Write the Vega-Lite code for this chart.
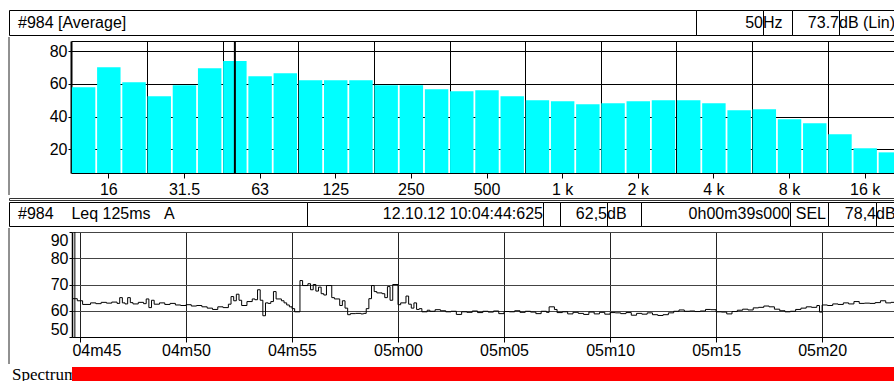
{
  "$schema": "https://vega.github.io/schema/vega-lite/v6.json",
  "padding": {"left": 8, "top": 9, "right": 0, "bottom": 0},
  "background": "white",
  "spacing": 0,
  "config": {
    "view": {"stroke": null},
    "font": "Liberation Sans",
    "axis": {"labelFont": "Liberation Sans", "labelFontSize": 16, "labelLineHeight": 12, "labelColor": "black", "tickColor": "black", "domainColor": "black", "gridColor": "black", "gridOpacity": 1, "zindex": 1, "labelAngle": 0},
    "text": {"font": "Liberation Sans", "fontSize": 16, "lineHeight": 12, "color": "black", "baseline": "middle"}
  },
  "vconcat": [
    {
      "hconcat": [
        {"width": 687, "height": 25, "view": {"stroke": "black"}, "data": {"values": [{"label": "#984 [Average]"}]}, "mark": {"type": "text", "align": "left", "dx": 9}, "encoding": {"text": {"field": "label"}, "x": {"datum": 0, "type": "quantitative", "scale": {"domain": [0, 1]}, "axis": null}}},
        {"width": 67, "height": 25, "view": {"stroke": "black"}, "data": {"values": [{"label": "50"}]}, "mark": {"type": "text", "align": "right"}, "encoding": {"text": {"field": "label"}, "x": {"datum": 1, "type": "quantitative", "scale": {"domain": [0, 1]}, "axis": null}}},
        {"width": 29, "height": 25, "view": {"stroke": "black"}, "data": {"values": [{"label": "Hz"}]}, "mark": {"type": "text", "align": "left"}, "encoding": {"text": {"field": "label"}, "x": {"datum": 0, "type": "quantitative", "scale": {"domain": [0, 1]}, "axis": null}}},
        {"width": 47, "height": 25, "view": {"stroke": "black"}, "data": {"values": [{"label": "73.7"}]}, "mark": {"type": "text", "align": "right"}, "encoding": {"text": {"field": "label"}, "x": {"datum": 1, "type": "quantitative", "scale": {"domain": [0, 1]}, "axis": null}}},
        {"width": 60, "height": 25, "view": {"stroke": "black"}, "data": {"values": [{"label": "dB (Lin)"}]}, "mark": {"type": "text", "align": "left"}, "encoding": {"text": {"field": "label"}, "x": {"datum": 0, "type": "quantitative", "scale": {"domain": [0, 1]}, "axis": null}}}
      ],
      "spacing": 0,
      "bounds": "flush"
    },
    {
      "hconcat": [
        {"width": 62, "height": 158, "data": {"values": [{}]}, "mark": {"type": "rule", "color": "#222222", "strokeWidth": 1}, "encoding": {"x": {"datum": 0, "type": "quantitative", "scale": {"domain": [0, 1]}, "axis": null}}},
        {
          "vconcat": [
            {"width": 832, "height": 4, "data": {"values": []}, "mark": "point", "encoding": {}},
            {
              "width": 832,
              "height": 132,
              "layer": [
                {
                  "data": {"values": [
                    {"band": "12.5", "level": 58.0}, {"band": "16", "level": 70.2}, {"band": "20", "level": 61.0},
                    {"band": "25", "level": 52.5}, {"band": "31.5", "level": 59.2}, {"band": "40", "level": 69.6},
                    {"band": "50", "level": 74.0}, {"band": "63", "level": 64.7}, {"band": "80", "level": 66.5},
                    {"band": "100", "level": 62.3}, {"band": "125", "level": 62.3}, {"band": "160", "level": 62.3},
                    {"band": "200", "level": 59.2}, {"band": "250", "level": 59.2}, {"band": "315", "level": 56.8},
                    {"band": "400", "level": 55.5}, {"band": "500", "level": 56.1}, {"band": "630", "level": 52.5},
                    {"band": "800", "level": 50.0}, {"band": "1 k", "level": 49.4}, {"band": "1.25 k", "level": 47.6},
                    {"band": "1.6 k", "level": 48.2}, {"band": "2 k", "level": 49.4}, {"band": "2.5 k", "level": 50.0},
                    {"band": "3.15 k", "level": 50.0}, {"band": "4 k", "level": 48.2}, {"band": "5 k", "level": 43.9},
                    {"band": "6.3 k", "level": 44.5}, {"band": "8 k", "level": 38.4}, {"band": "10 k", "level": 36.0},
                    {"band": "12.5 k", "level": 29.2}, {"band": "16 k", "level": 20.7}, {"band": "20 k", "level": 18.2}
                  ]},
                  "mark": {"type": "bar", "color": "#00FFFF", "clip": true},
                  "encoding": {
                    "x": {
                      "field": "band", "type": "ordinal", "sort": null,
                      "scale": {"domain": ["12.5","16","20","25","31.5","40","50","63","80","100","125","160","200","250","315","400","500","630","800","1 k","1.25 k","1.6 k","2 k","2.5 k","3.15 k","4 k","5 k","6.3 k","8 k","10 k","12.5 k","16 k","20 k"], "paddingInner": 0.07, "paddingOuter": 0.035},
                      "axis": {"title": null, "values": ["16","31.5","63","125","250","500","1 k","2 k","4 k","8 k","16 k"], "grid": false, "tickSize": 5, "labelPadding": 11, "labelBaseline": "middle", "orient": "bottom"}
                    },
                    "y": {
                      "field": "level", "type": "quantitative",
                      "scale": {"domain": [5.6, 86.2], "nice": false, "zero": false},
                      "axis": {"title": null, "values": [20, 40, 60, 80], "tickSize": 3, "labelPadding": 1, "domainWidth": 2, "grid": true}
                    }
                  }
                },
                {
                  "data": {"values": [{"band": "50"}]},
                  "mark": {"type": "rule", "color": "black", "strokeWidth": 2},
                  "encoding": {
                    "x": {
                      "field": "band", "type": "ordinal", "sort": null,
                      "axis": {"title": null, "orient": "top", "values": ["25","50","100","200","400","800","1.6 k","3.15 k","6.3 k","12.5 k"], "bandPosition": 0, "grid": true, "labels": false, "ticks": false, "domain": true}
                    }
                  }
                }
              ],
              "resolve": {"axis": {"x": "independent"}}
            }
          ],
          "spacing": 0,
          "bounds": "flush"
        }
      ],
      "spacing": 0,
      "bounds": "flush"
    },
    {"width": 885, "height": 2, "view": {"stroke": "#333333", "strokeWidth": 1}, "data": {"values": []}, "mark": "point", "encoding": {}},
    {
      "hconcat": [
        {"width": 298, "height": 24, "view": {"stroke": "black"}, "data": {"values": [{"label": "#984\u00a0\u00a0\u00a0\u00a0Leq 125ms\u00a0\u00a0\u00a0A"}]}, "mark": {"type": "text", "align": "left", "dx": 9}, "encoding": {"text": {"field": "label"}, "x": {"datum": 0, "type": "quantitative", "scale": {"domain": [0, 1]}, "axis": null}}},
        {"width": 236, "height": 24, "view": {"stroke": "black"}, "data": {"values": [{"label": "12.10.12 10:04:44:625"}]}, "mark": {"type": "text", "align": "right"}, "encoding": {"text": {"field": "label"}, "x": {"datum": 1, "type": "quantitative", "scale": {"domain": [0, 1]}, "axis": null}}},
        {"width": 17, "height": 24, "view": {"stroke": "black"}, "data": {"values": [{"label": ""}]}, "mark": {"type": "text", "align": "left"}, "encoding": {"text": {"field": "label"}, "x": {"datum": 0, "type": "quantitative", "scale": {"domain": [0, 1]}, "axis": null}}},
        {"width": 47, "height": 24, "view": {"stroke": "black"}, "data": {"values": [{"label": "62,5"}]}, "mark": {"type": "text", "align": "right"}, "encoding": {"text": {"field": "label"}, "x": {"datum": 1, "type": "quantitative", "scale": {"domain": [0, 1]}, "axis": null}}},
        {"width": 34, "height": 24, "view": {"stroke": "black"}, "data": {"values": [{"label": "dB"}]}, "mark": {"type": "text", "align": "left"}, "encoding": {"text": {"field": "label"}, "x": {"datum": 0, "type": "quantitative", "scale": {"domain": [0, 1]}, "axis": null}}},
        {"width": 149, "height": 24, "view": {"stroke": "black"}, "data": {"values": [{"label": "0h00m39s000"}]}, "mark": {"type": "text", "align": "right"}, "encoding": {"text": {"field": "label"}, "x": {"datum": 1, "type": "quantitative", "scale": {"domain": [0, 1]}, "axis": null}}},
        {"width": 38, "height": 24, "view": {"stroke": "black"}, "data": {"values": [{"label": "SEL"}]}, "mark": {"type": "text", "align": "center"}, "encoding": {"text": {"field": "label"}, "x": {"datum": 0.55, "type": "quantitative", "scale": {"domain": [0, 1]}, "axis": null}}},
        {"width": 48, "height": 24, "view": {"stroke": "black"}, "data": {"values": [{"label": "78,4"}]}, "mark": {"type": "text", "align": "right"}, "encoding": {"text": {"field": "label"}, "x": {"datum": 1, "type": "quantitative", "scale": {"domain": [0, 1]}, "axis": null}}},
        {"width": 23, "height": 24, "view": {"stroke": "black"}, "data": {"values": [{"label": "dB"}]}, "mark": {"type": "text", "align": "left"}, "encoding": {"text": {"field": "label"}, "x": {"datum": 0, "type": "quantitative", "scale": {"domain": [0, 1]}, "axis": null}}}
      ],
      "spacing": 0,
      "bounds": "flush"
    },
    {
      "hconcat": [
        {"width": 63, "height": 136, "data": {"values": [{}]}, "mark": {"type": "rule", "color": "#222222", "strokeWidth": 1}, "encoding": {"x": {"datum": 0, "type": "quantitative", "scale": {"domain": [0, 1]}, "axis": null}}},
        {
          "vconcat": [
            {"width": 827, "height": 4, "data": {"values": []}, "mark": "point", "encoding": {}},
            {
              "width": 827,
              "height": 105,
              "layer": [
                {
                  "data": {"values": [
                    {"t":284.625,"v":64.6},{"t":284.875,"v":63.8},{"t":285.125,"v":62.4},{"t":285.5,"v":63.0},{"t":285.75,"v":62.7},{"t":286.0,"v":63.2},{"t":286.25,"v":62.9},{"t":286.5,"v":63.3},{"t":286.75,"v":62.8},{"t":286.875,"v":65.0},{"t":287.0,"v":63.0},{"t":287.125,"v":62.6},{"t":287.25,"v":65.0},{"t":287.375,"v":63.1},{"t":287.5,"v":62.6},{"t":287.75,"v":63.2},{"t":288.0,"v":62.7},{"t":288.125,"v":64.5},{"t":288.25,"v":61.2},{"t":288.375,"v":64.0},{"t":288.5,"v":62.5},{"t":288.75,"v":63.0},{"t":289.0,"v":62.4},{"t":289.25,"v":62.8},{"t":289.5,"v":62.2},{"t":289.75,"v":62.0},{"t":290.0,"v":62.3},{"t":290.25,"v":61.8},{"t":290.5,"v":62.0},{"t":290.75,"v":61.5},{"t":291.0,"v":61.0},{"t":291.25,"v":60.5},{"t":291.5,"v":61.5},{"t":291.75,"v":61.2},{"t":292.0,"v":62.5},{"t":292.125,"v":65.4},{"t":292.25,"v":63.8},{"t":292.375,"v":66.3},{"t":292.5,"v":64.0},{"t":292.625,"v":62.0},{"t":292.875,"v":63.5},{"t":293.125,"v":64.5},{"t":293.25,"v":64.2},{"t":293.375,"v":68.0},{"t":293.5,"v":64.0},{"t":293.625,"v":58.1},{"t":293.75,"v":63.0},{"t":293.875,"v":62.8},{"t":294.0,"v":63.5},{"t":294.125,"v":67.3},{"t":294.25,"v":64.5},{"t":294.5,"v":63.8},{"t":294.625,"v":63.0},{"t":294.75,"v":62.2},{"t":294.875,"v":61.5},{"t":295.0,"v":60.8},{"t":295.125,"v":59.6},{"t":295.375,"v":71.5},{"t":295.5,"v":69.6},{"t":295.75,"v":70.3},{"t":295.875,"v":68.0},{"t":296.0,"v":70.0},{"t":296.125,"v":67.5},{"t":296.25,"v":69.0},{"t":296.375,"v":66.5},{"t":296.5,"v":66.0},{"t":296.625,"v":69.6},{"t":296.875,"v":65.0},{"t":297.0,"v":64.5},{"t":297.25,"v":62.0},{"t":297.375,"v":63.8},{"t":297.5,"v":61.0},{"t":297.625,"v":58.5},{"t":297.75,"v":58.9},{"t":298.0,"v":59.0},{"t":298.25,"v":58.8},{"t":298.375,"v":59.0},{"t":298.5,"v":60.8},{"t":298.625,"v":64.6},{"t":298.75,"v":69.6},{"t":298.875,"v":67.3},{"t":299.0,"v":66.8},{"t":299.25,"v":66.5},{"t":299.375,"v":65.0},{"t":299.5,"v":69.2},{"t":299.625,"v":64.0},{"t":299.75,"v":70.0},{"t":300.0,"v":62.3},{"t":300.125,"v":63.0},{"t":300.375,"v":65.6},{"t":300.5,"v":62.5},{"t":300.625,"v":61.0},{"t":300.75,"v":63.0},{"t":300.875,"v":60.5},{"t":301.0,"v":60.8},{"t":301.125,"v":59.6},{"t":301.375,"v":60.2},{"t":301.5,"v":59.8},{"t":301.75,"v":60.4},{"t":302.0,"v":60.0},{"t":302.25,"v":59.6},{"t":302.5,"v":59.8},{"t":302.75,"v":58.6},{"t":303.0,"v":59.6},{"t":303.25,"v":59.4},{"t":303.5,"v":59.9},{"t":303.75,"v":59.3},{"t":304.0,"v":59.8},{"t":304.25,"v":59.5},{"t":304.5,"v":59.9},{"t":304.75,"v":58.9},{"t":305.0,"v":59.7},{"t":305.25,"v":59.6},{"t":305.5,"v":60.0},{"t":305.75,"v":59.4},{"t":306.0,"v":59.8},{"t":306.25,"v":59.5},{"t":306.5,"v":58.9},{"t":306.75,"v":59.8},{"t":307.0,"v":59.4},{"t":307.125,"v":61.5},{"t":307.375,"v":60.5},{"t":307.5,"v":59.3},{"t":307.75,"v":59.6},{"t":308.0,"v":58.8},{"t":308.25,"v":59.4},{"t":308.5,"v":59.0},{"t":308.75,"v":58.6},{"t":309.0,"v":59.5},{"t":309.25,"v":58.8},{"t":309.5,"v":59.4},{"t":309.75,"v":58.7},{"t":310.0,"v":59.3},{"t":310.25,"v":59.2},{"t":310.5,"v":58.9},{"t":310.75,"v":59.3},{"t":311.0,"v":58.3},{"t":311.25,"v":59.0},{"t":311.5,"v":58.7},{"t":311.75,"v":59.2},{"t":312.0,"v":58.5},{"t":312.25,"v":58.2},{"t":312.5,"v":58.5},{"t":312.75,"v":59.2},{"t":313.0,"v":59.8},{"t":313.25,"v":60.3},{"t":313.5,"v":59.8},{"t":313.75,"v":59.9},{"t":314.0,"v":59.7},{"t":314.25,"v":59.9},{"t":314.5,"v":60.5},{"t":314.75,"v":60.4},{"t":315.0,"v":59.6},{"t":315.25,"v":59.5},{"t":315.5,"v":58.8},{"t":315.75,"v":59.7},{"t":316.0,"v":60.2},{"t":316.25,"v":60.6},{"t":316.5,"v":60.3},{"t":316.75,"v":61.1},{"t":317.0,"v":61.3},{"t":317.25,"v":61.8},{"t":317.5,"v":61.5},{"t":317.75,"v":60.6},{"t":318.0,"v":60.0},{"t":318.25,"v":59.6},{"t":318.5,"v":59.8},{"t":318.75,"v":60.5},{"t":319.0,"v":61.0},{"t":319.25,"v":61.5},{"t":319.5,"v":61.3},{"t":319.75,"v":62.0},{"t":319.875,"v":59.5},{"t":320.0,"v":62.2},{"t":320.25,"v":62.0},{"t":320.5,"v":62.6},{"t":320.75,"v":62.4},{"t":321.0,"v":63.0},{"t":321.25,"v":62.6},{"t":321.5,"v":63.5},{"t":321.75,"v":62.8},{"t":322.0,"v":62.9},{"t":322.25,"v":62.8},{"t":322.5,"v":63.1},{"t":322.75,"v":63.8},{"t":323.0,"v":63.0},{"t":323.25,"v":63.2},{"t":323.625,"v":63.2}
                  ]},
                  "mark": {"type": "line", "color": "black", "strokeWidth": 1, "interpolate": "step-after", "clip": true},
                  "encoding": {
                    "x": {
                      "field": "t", "type": "quantitative",
                      "scale": {"domain": [284.625, 323.625], "nice": false, "zero": false},
                      "axis": {"title": null, "values": [285, 290, 295, 300, 305, 310, 315, 320], "labelExpr": "'0' + floor(datum.value / 60) + 'm' + (datum.value % 60 < 10 ? '0' : '') + (datum.value % 60)", "tickSize": 5, "labelPadding": 8, "labelBaseline": "middle", "grid": true, "gridColor": "#222222", "labelFlush": 10, "labelFlushOffset": 8}
                    },
                    "y": {
                      "field": "v", "type": "quantitative",
                      "scale": {"domain": [50, 90], "nice": false, "zero": false},
                      "axis": {"title": null, "values": [50, 60, 70, 80, 90], "tickSize": 3, "labelPadding": 1, "grid": true, "gridColor": "#444444", "labelFlush": true, "domainWidth": 1.5}
                    }
                  }
                },
                {
                  "data": {"values": [{"t": 284.76}]},
                  "mark": {"type": "rule", "color": "black", "strokeWidth": 1},
                  "encoding": {"x": {"field": "t", "type": "quantitative"}}
                }
              ]
            }
          ],
          "spacing": 0,
          "bounds": "flush"
        }
      ],
      "spacing": 0,
      "bounds": "flush"
    },
    {
      "hconcat": [
        {"width": 63, "height": 15, "view": {"stroke": "white"}, "data": {"values": [{"label": "Spectrum"}]}, "mark": {"type": "text", "align": "left", "font": "Liberation Serif", "fontSize": 17, "dx": 3}, "encoding": {"text": {"field": "label"}, "x": {"datum": 0, "type": "quantitative", "scale": {"domain": [0, 1]}, "axis": null}}},
        {"width": 827, "height": 15, "view": {"stroke": "#444444"}, "data": {"values": [{"start": 284.625, "end": 323.625}]}, "mark": {"type": "rect", "color": "#FF0000"}, "encoding": {"x": {"field": "start", "type": "quantitative", "scale": {"domain": [284.625, 323.625], "nice": false, "zero": false}, "axis": null}, "x2": {"field": "end"}, "y": {"datum": 0, "type": "quantitative", "scale": {"domain": [0, 1]}, "axis": null}, "y2": {"datum": 1}}}
      ],
      "spacing": 0,
      "bounds": "flush"
    }
  ]
}
